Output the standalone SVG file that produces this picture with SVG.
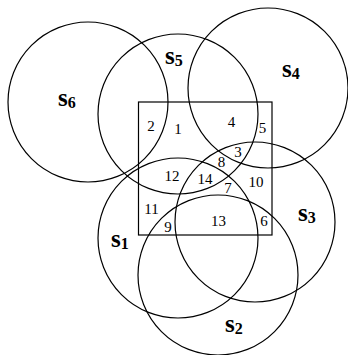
<svg xmlns="http://www.w3.org/2000/svg" width="348" height="355" viewBox="0 0 348 355">
<style>
.c{fill:none;stroke:#000;stroke-width:1.2}
text{font-family:'Liberation Serif','Times New Roman',serif;fill:#000}
.n{font-size:15px;text-anchor:middle}
.s{font-size:25px;font-weight:bold}
.sub{font-size:16px}
</style>
<rect width="348" height="355" fill="#fff"/>
<g id="region">
<rect class="c" x="138.5" y="102" width="133.5" height="133"/>
</g>
<g id="connectors"/>
<g id="s6"><circle class="c" cx="88" cy="102" r="80"/><text class="s" x="58" y="106" font-family="Liberation Serif">s<tspan class="sub" dy="2">6</tspan></text></g>
<g id="s5"><circle class="c" cx="178" cy="114" r="80"/><text class="s" x="165" y="64" font-family="Liberation Serif">s<tspan class="sub" dy="2">5</tspan></text></g>
<g id="s4"><circle class="c" cx="268" cy="88" r="80"/><text class="s" x="282" y="77" font-family="Liberation Serif">s<tspan class="sub" dy="2">4</tspan></text></g>
<g id="s3"><circle class="c" cx="255" cy="222" r="80"/><text class="s" x="298" y="221" font-family="Liberation Serif">s<tspan class="sub" dy="2">3</tspan></text></g>
<g id="s1"><circle class="c" cx="178" cy="238" r="80"/><text class="s" x="111" y="247" font-family="Liberation Serif">s<tspan class="sub" dy="2">1</tspan></text></g>
<g id="s2"><circle class="c" cx="218" cy="275" r="80"/><text class="s" x="225" y="332" font-family="Liberation Serif">s<tspan class="sub" dy="2">2</tspan></text></g>
<g id="labels" font-family="Liberation Serif">
<text class="n" x="151" y="131">2</text>
<text class="n" x="178" y="134">1</text>
<text class="n" x="231.5" y="127">4</text>
<text class="n" x="262.5" y="133">5</text>
<text class="n" x="238" y="157">3</text>
<text class="n" x="221.5" y="167">8</text>
<text class="n" x="172" y="181">12</text>
<text class="n" x="205" y="184">14</text>
<text class="n" x="228" y="193">7</text>
<text class="n" x="256" y="187">10</text>
<text class="n" x="151.5" y="214">11</text>
<text class="n" x="168" y="231.5">9</text>
<text class="n" x="218.5" y="226">13</text>
<text class="n" x="264" y="226">6</text>
</g>
</svg>
